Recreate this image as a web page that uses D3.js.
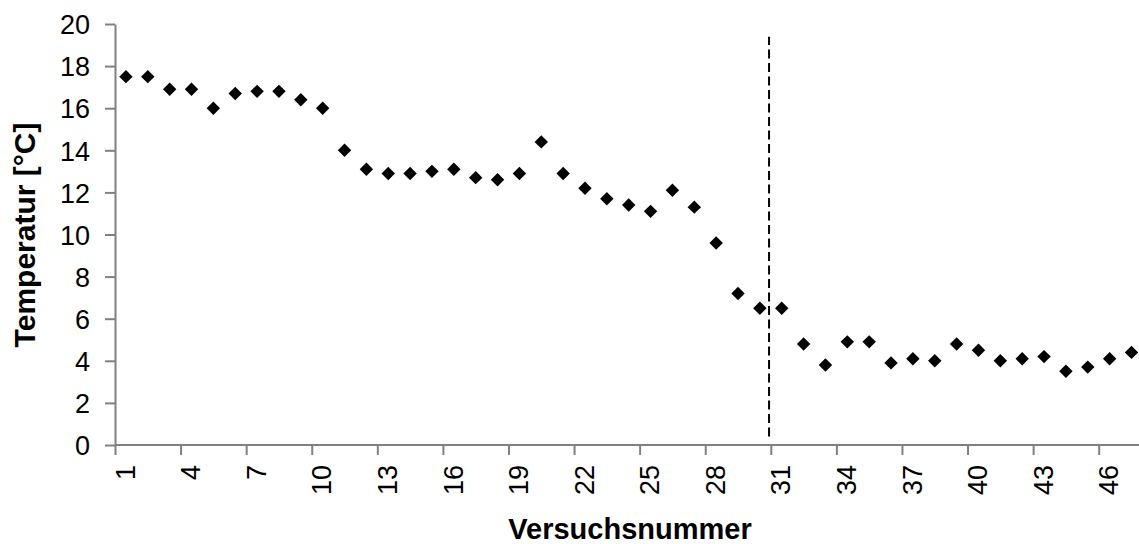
<!DOCTYPE html>
<html>
<head>
<meta charset="utf-8">
<script src="https://cdn.jsdelivr.net/npm/d3@7"></script>
<style>
  html, body { margin: 0; padding: 0; background: #fff; }
  svg { display: block; font-family: "Liberation Sans", Arial, sans-serif; }
</style>
</head>
<body>
<svg id="chart" width="1139" height="544"></svg>
<script>
// Versuchsnummer 1..47
const versuche = d3.range(1, 48);
// Temperatur je Versuch in °C
const temperatur = [
  17.5, 17.5, 16.9, 16.9, 16.0, 16.7, 16.8, 16.8, 16.4, 16.0,
  14.0, 13.1, 12.9, 12.9, 13.0, 13.1, 12.7, 12.6, 12.9, 14.4,
  12.9, 12.2, 11.7, 11.4, 11.1, 12.1, 11.3, 9.6, 7.2, 6.5,
  6.5, 4.8, 3.8, 4.9, 4.9, 3.9, 4.1, 4.0, 4.8, 4.5,
  4.0, 4.1, 4.2, 3.5, 3.7, 4.1, 4.4
];
// beschriftete Versuchsnummern auf der x-Achse
const xTickLabels = [1, 4, 7, 10, 13, 16, 19, 22, 25, 28, 31, 34, 37, 40, 43, 46];
const yTicks = [0, 2, 4, 6, 8, 10, 12, 14, 16, 18, 20];
// senkrechte Trennlinie (Position in Versuchsnummern, Höhe in °C)
const trennlinieX = 30.42;
const trennlinieY = [0.4, 19.4];

const svg = d3.select("#chart");
const plotLeft = 115, plotTop = 24, plotBottom = 445, step = 21.86;
const plotRight = plotLeft + versuche.length * step;

const x = d3.scaleBand().domain(versuche).range([plotLeft, plotRight]).padding(0);
const xLin = d3.scaleLinear().domain([0.5, versuche.length + 0.5]).range([plotLeft, plotRight]);
const y = d3.scaleLinear().domain([0, 20]).range([plotBottom, plotTop]);

const axisColor = "#808080";
const tickFont = "27px";

// y-Achse
const gy = svg.append("g")
  .attr("transform", `translate(${plotLeft},0)`)
  .call(d3.axisLeft(y).tickValues(yTicks).tickSize(10).tickPadding(15).tickSizeOuter(0));
gy.select(".domain").attr("stroke", axisColor).attr("stroke-width", 2);
gy.selectAll(".tick line").attr("stroke", axisColor).attr("stroke-width", 2);
gy.selectAll(".tick text")
  .attr("fill", "#000")
  .style("font-size", tickFont)
  .attr("dy", "0.36em");

// x-Achse: Striche an den Kategoriegrenzen
const grenzen = xTickLabels.map(v => v - 0.5);
const gxTicks = svg.append("g")
  .attr("transform", `translate(0,${plotBottom})`)
  .call(d3.axisBottom(xLin).tickValues(grenzen).tickSize(10).tickFormat("").tickSizeOuter(0));
gxTicks.select(".domain").remove();
gxTicks.selectAll(".tick line").attr("stroke", axisColor).attr("stroke-width", 2);

// x-Achsenlinie
svg.append("line")
  .attr("x1", plotLeft).attr("x2", plotRight)
  .attr("y1", plotBottom).attr("y2", plotBottom)
  .attr("stroke", axisColor).attr("stroke-width", 2);

// x-Beschriftungen (gedreht) in der Mitte der Kategorien
const gxLab = svg.append("g")
  .attr("transform", `translate(0,${plotBottom})`)
  .call(d3.axisBottom(x).tickValues(xTickLabels).tickSize(0).tickPadding(0).tickSizeOuter(0));
gxLab.select(".domain").remove();
gxLab.selectAll(".tick text")
  .attr("fill", "#000")
  .style("font-size", tickFont)
  .attr("text-anchor", "end")
  .attr("x", -20)
  .attr("y", -1)
  .attr("dy", "0.36em")
  .attr("transform", "rotate(-90)");

// Achsentitel
svg.append("text")
  .attr("transform", "translate(630,539)")
  .attr("text-anchor", "middle")
  .style("font-size", "29px")
  .style("font-weight", "bold")
  .text("Versuchsnummer");

svg.append("text")
  .attr("transform", "translate(35,235) rotate(-90)")
  .attr("text-anchor", "middle")
  .style("font-size", "30px")
  .style("font-weight", "bold")
  .text("Temperatur [°C]");

// Trennlinie
svg.append("line")
  .attr("x1", xLin(trennlinieX)).attr("x2", xLin(trennlinieX))
  .attr("y1", y(trennlinieY[0])).attr("y2", y(trennlinieY[1]))
  .attr("stroke", "#000").attr("stroke-width", 2)
  .attr("stroke-dasharray", "9,4.5");

// Messpunkte als Rauten
const raute = d3.symbol().type(d3.symbolSquare).size(90);
svg.append("g")
  .selectAll("path")
  .data(versuche.map((v, i) => ({ v, t: temperatur[i] })))
  .join("path")
  .attr("d", raute)
  .attr("fill", "#000")
  .attr("transform", d => `translate(${x(d.v) + x.bandwidth() / 2},${y(d.t)}) rotate(45)`);
</script>
</body>
</html>
